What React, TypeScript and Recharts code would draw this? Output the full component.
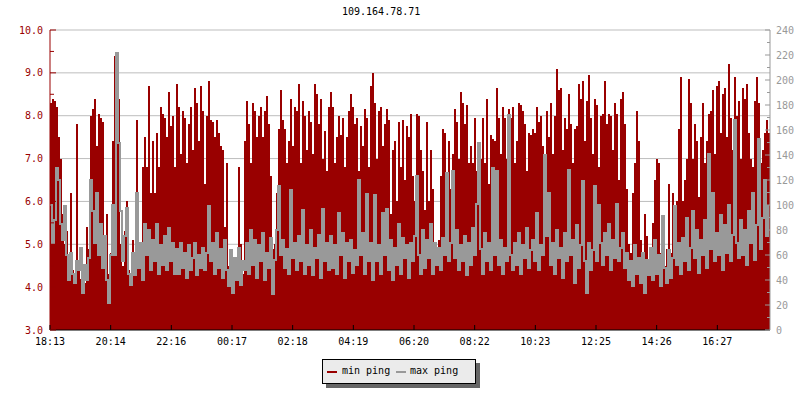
import React from 'react';
import { ComposedChart, Area, Line, XAxis, YAxis, CartesianGrid } from 'recharts';

const TITLE = '109.164.78.71';

// one sample every 4 minutes, starting at 18:13
const SAMPLE_MINUTES = 4;
const LABEL_MINUTES = 7280 / 60;

const timeLabels = ['18:13', '20:14', '22:16', '00:17', '02:18', '04:19', '06:20', '08:22', '10:23', '12:25', '14:26', '16:27'];

// min ping, left axis
const minPing = [
  8.3, 8.4, 8.35, 8.2, 7.5, 7.0, 5.7, 5.0, 5.3, 4.6,
  6.2, 4.4, 4.3, 7.8, 4.5, 4.2, 4.4, 4.1, 5.4, 4.9,
  8.0, 8.15, 8.4, 7.3, 8.05, 7.95, 7.85, 4.6, 5.7, 4.3,
  4.8, 7.4, 9.4, 8.8, 8.4, 5.0, 4.5, 5.3, 6.0, 4.4,
  4.2, 5.1, 4.3, 7.9, 4.6, 4.9, 6.8, 7.5, 6.8, 8.7,
  6.2, 7.4, 6.2, 7.6, 6.8, 8.2, 8.05, 7.95, 7.5, 8.55,
  7.75, 8.0, 6.8, 8.75, 8.2, 7.1, 8.1, 7.95, 6.9, 7.8,
  8.2, 7.2, 8.65, 8.3, 7.4, 8.7, 8.1, 6.4, 8.0, 8.8,
  7.9, 7.85, 7.5, 7.9, 7.6, 7.3, 7.2, 5.4, 6.9, 4.5,
  4.3, 4.6, 4.2, 4.4, 6.8, 5.0, 4.3, 7.4, 8.35, 7.8,
  6.9, 8.3, 8.1, 7.5, 8.0, 8.2, 7.5, 8.1, 8.45, 7.8,
  6.6, 4.9, 5.0, 6.2, 7.7, 8.6, 7.9, 7.7, 6.9, 7.4,
  8.4, 7.3, 8.2, 8.1, 8.75, 6.9, 8.35, 8.0, 7.2, 8.1,
  7.85, 7.1, 8.75, 8.5, 7.8, 8.4, 7.0, 7.65, 6.7, 8.2,
  8.55, 8.2, 6.9, 7.5, 8.0, 7.55, 7.95, 6.8, 7.5, 8.1,
  8.5, 8.2, 7.8, 7.95, 6.7, 7.75, 7.3, 8.15, 7.95, 6.8,
  8.7, 9.0, 8.3, 7.0, 8.1, 8.2, 7.3, 7.8, 8.15, 7.9,
  5.7, 7.2, 7.4, 6.0, 7.85, 6.8, 7.9, 6.5, 7.75, 7.5,
  8.05, 6.6, 6.0, 8.05, 8.0, 7.2, 6.7, 5.8, 7.85, 6.0,
  7.2, 6.3, 5.0, 4.6, 5.1, 6.6, 7.7, 7.6, 6.3, 7.4,
  6.3, 7.1, 8.15, 7.85, 7.0, 8.55, 8.3, 7.8, 8.25, 6.9,
  7.3, 6.9, 7.95, 6.7, 6.2, 7.0, 7.95, 6.9, 8.4, 6.4,
  7.55, 7.45, 7.4, 8.65, 7.95, 7.1, 8.2, 7.95, 7.0, 8.15,
  7.95, 8.2, 6.9, 7.4, 8.3, 8.25, 8.1, 7.8, 6.7, 7.6,
  7.55, 7.7, 7.6, 8.2, 7.85, 8.0, 7.3, 6.6, 8.1, 7.5,
  8.3, 7.1, 8.0, 9.1, 8.6, 8.65, 7.2, 7.95, 7.7, 8.5,
  7.8, 6.9, 7.7, 7.75, 8.75, 8.4, 8.8, 7.4, 8.35, 8.95,
  7.95, 7.1, 8.4, 8.25, 6.8, 8.0, 8.05, 8.8, 7.8, 8.05,
  8.0, 7.2, 8.3, 8.05, 6.5, 8.4, 8.55, 7.8, 6.3, 5.0,
  4.8, 6.2, 6.9, 8.1, 7.4, 5.1, 4.6, 5.7, 5.2, 4.5,
  4.7, 5.5, 6.5, 7.0, 6.9, 4.8, 5.3, 4.5, 4.9, 6.4,
  4.8, 6.2, 5.0, 6.0, 7.7, 8.9, 6.0, 6.5, 7.0, 8.85,
  8.3, 7.0, 7.8, 7.4, 6.1, 7.5, 8.3, 6.9, 7.4, 8.05,
  8.1, 8.6, 7.1, 8.7, 8.8, 7.6, 8.5, 8.65, 7.5, 9.2,
  7.95, 7.2, 8.9, 8.0, 8.35, 7.0, 8.65, 8.4, 8.75, 7.6,
  7.0, 6.8, 8.35, 8.9, 8.3, 6.9, 7.2, 7.6, 7.9, 7.6,
];

// max ping, right axis
const maxPing = [
  100, 70, 88, 130, 120, 85, 72, 99, 60, 40,
  62, 45, 38, 55, 48, 66, 30, 52, 40, 58,
  120, 95, 70, 110, 60, 85, 50, 75, 40, 22,
  60, 100, 60, 222, 150, 95, 55, 75, 98, 45,
  36, 62, 44, 110, 50, 70, 40, 85, 60, 80,
  48, 72, 55, 85, 45, 68, 52, 75, 48, 82,
  55, 70, 45, 65, 45, 70, 50, 62, 42, 68,
  48, 58, 70, 44, 60, 50, 66, 48, 62, 99,
  55, 70, 45, 78, 50, 65, 42, 72, 48, 35,
  64, 30, 58, 40, 66, 36, 55, 48, 70, 45,
  80, 52, 72, 42, 68, 55, 78, 40, 62, 50,
  74, 29, 56, 80, 115, 60, 72, 50, 65, 45,
  112, 58, 70, 48, 75, 55, 96, 45, 68, 52,
  80, 44, 66, 58, 76, 42, 97, 55, 70, 48,
  75, 50, 68, 45, 94, 60, 78, 42, 70, 55,
  72, 46, 64, 52, 120, 60, 78, 45, 109, 55,
  70, 40, 108, 55, 68, 45, 94, 60, 97, 48,
  72, 40, 66, 52, 85, 45, 74, 58, 68, 42,
  70, 55, 75, 123, 60, 45, 80, 50, 72, 58,
  85, 45, 70, 52, 66, 48, 74, 60, 126, 55,
  70, 127, 58, 80, 48, 68, 55, 75, 44, 70,
  52, 82, 60, 101, 150, 65, 45, 78, 55, 70,
  48, 130, 60, 127, 52, 72, 45, 66, 55, 172,
  60, 48, 70, 52, 78, 45, 68, 58, 82, 50,
  64, 72, 55, 94, 48, 68, 60, 140, 75, 110,
  52, 70, 45, 80, 58, 66, 42, 78, 55, 128,
  60, 72, 38, 84, 50, 68, 119, 55, 30, 70,
  48, 64, 115, 55, 100, 70, 52, 78, 60, 85,
  48, 72, 58, 101, 55, 66, 78, 50, 62, 40,
  55, 35, 68, 45, 58, 38, 62, 30, 56, 44,
  66, 40, 72, 45, 60, 35, 91, 50, 38, 64,
  42, 58, 99, 52, 70, 45, 74, 55, 90, 48,
  66, 95, 58, 80, 46, 72, 60, 88, 50, 141,
  65, 110, 55, 78, 60, 92, 48, 84, 62, 100,
  55, 76, 168, 70, 58, 88, 60, 80, 52, 95,
  70, 110, 56, 84, 153, 65, 90, 120, 75, 100,
];

const leftTicks = [3, 3.5, 4, 4.5, 5, 5.5, 6, 6.5, 7, 7.5, 8, 8.5, 9, 9.5, 10];
const gridValues = [4, 5, 6, 7, 8, 9, 10];
const rightTicks = [0, 10, 20, 30, 40, 50, 60, 70, 80, 90, 100, 110, 120, 130, 140, 150, 160, 170, 180, 190, 200, 210, 220, 230, 240];

const RED = '#990000';
const GREY = '#999999';
const FONT = '"DejaVu Sans Mono", monospace';

const chartData: { t: number; min: number; max: number | null }[] = minPing.map((v, i) => ({
  t: i * SAMPLE_MINUTES,
  min: v,
  max: maxPing[i],
}));
// close the last step of the area
chartData.push({ t: minPing.length * SAMPLE_MINUTES, min: minPing[minPing.length - 1], max: null });

const xTicks = timeLabels.map((_, i) => i * LABEL_MINUTES);

function LeftTick(props: any) {
  const { x, y, payload } = props;
  const major = Number.isInteger(payload.value);
  return (
    <g>
      <line x1={x} x2={x + (major ? 6 : 4)} y1={y} y2={y} stroke={RED} />
      {major && (
        <text x={x - 7} y={y} textAnchor="end" dominantBaseline="central" fill={RED} fontSize={10} fontFamily={FONT}>
          {payload.value.toFixed(1)}
        </text>
      )}
    </g>
  );
}

function RightTick(props: any) {
  const { x, y, payload } = props;
  const major = payload.value % 20 === 0;
  return (
    <g>
      <line x1={x} x2={x - (major ? 5 : 3)} y1={y} y2={y} stroke={GREY} />
      {major && (
        <text x={x + 6} y={y} textAnchor="start" dominantBaseline="central" fill={GREY} fontSize={10} fontFamily={FONT}>
          {payload.value}
        </text>
      )}
    </g>
  );
}

function TimeTick(props: any) {
  const { x, y, index } = props;
  return (
    <g>
      <line x1={x} x2={x} y1={y} y2={y - 5} stroke="#000" />
      <text x={x} y={y + 11} textAnchor="middle" dominantBaseline="central" fill="#000" fontSize={10} fontFamily={FONT}>
        {timeLabels[index]}
      </text>
    </g>
  );
}

export default function App() {
  return (
    <div style={{ position: 'absolute', left: 0, top: 0, width: 800, height: 400, background: '#fff', fontFamily: FONT }}>
      <div style={{ position: 'absolute', left: 342, top: 6, fontSize: 10, lineHeight: '12px', color: '#000' }}>{TITLE}</div>
      <ComposedChart width={800} height={400} data={chartData} margin={{ top: 30, right: 0, bottom: 50, left: 0 }}>
        <CartesianGrid yAxisId="left" vertical={false} horizontalValues={gridValues} stroke="#bdbdbd" />
        <XAxis
          dataKey="t"
          type="number"
          domain={[0, 1440]}
          ticks={xTicks}
          interval={0}
          height={20}
          tickSize={0}
          tickMargin={0}
          tickLine={false}
          axisLine={{ stroke: '#000' }}
          tick={<TimeTick />}
        />
        <YAxis
          yAxisId="left"
          domain={[3, 10]}
          ticks={leftTicks}
          interval={0}
          width={50}
          tickSize={0}
          tickMargin={0}
          tickLine={false}
          axisLine={{ stroke: RED }}
          tick={<LeftTick />}
        />
        <YAxis
          yAxisId="right"
          orientation="right"
          domain={[0, 240]}
          ticks={rightTicks}
          interval={0}
          width={30}
          tickSize={0}
          tickMargin={0}
          tickLine={false}
          axisLine={{ stroke: GREY }}
          tick={<RightTick />}
        />
        <Area
          yAxisId="left"
          type="stepAfter"
          dataKey="min"
          name="min ping"
          stroke="none"
          fill={RED}
          fillOpacity={1}
          baseValue={3}
          dot={false}
          activeDot={false}
          shapeRendering="crispEdges"
          isAnimationActive={false}
        />
        <Line
          yAxisId="right"
          type="stepAfter"
          dataKey="max"
          name="max ping"
          stroke={GREY}
          strokeWidth={2}
          dot={false}
          activeDot={false}
          shapeRendering="crispEdges"
          isAnimationActive={false}
        />
      </ComposedChart>
      <div
        style={{
          position: 'absolute',
          left: 322,
          top: 359,
          width: 152,
          height: 23,
          border: '1px solid #000',
          background: '#ebebeb',
          boxShadow: '4px 4px 0 #666',
          fontSize: 10,
          lineHeight: '12px',
          color: '#000',
        }}
      >
        <div style={{ position: 'absolute', left: 4, top: 11, width: 10, height: 2, background: RED }} />
        <div style={{ position: 'absolute', left: 19, top: 5 }}>min ping</div>
        <div style={{ position: 'absolute', left: 73, top: 11, width: 10, height: 2, background: GREY }} />
        <div style={{ position: 'absolute', left: 87, top: 5 }}>max ping</div>
      </div>
    </div>
  );
}
